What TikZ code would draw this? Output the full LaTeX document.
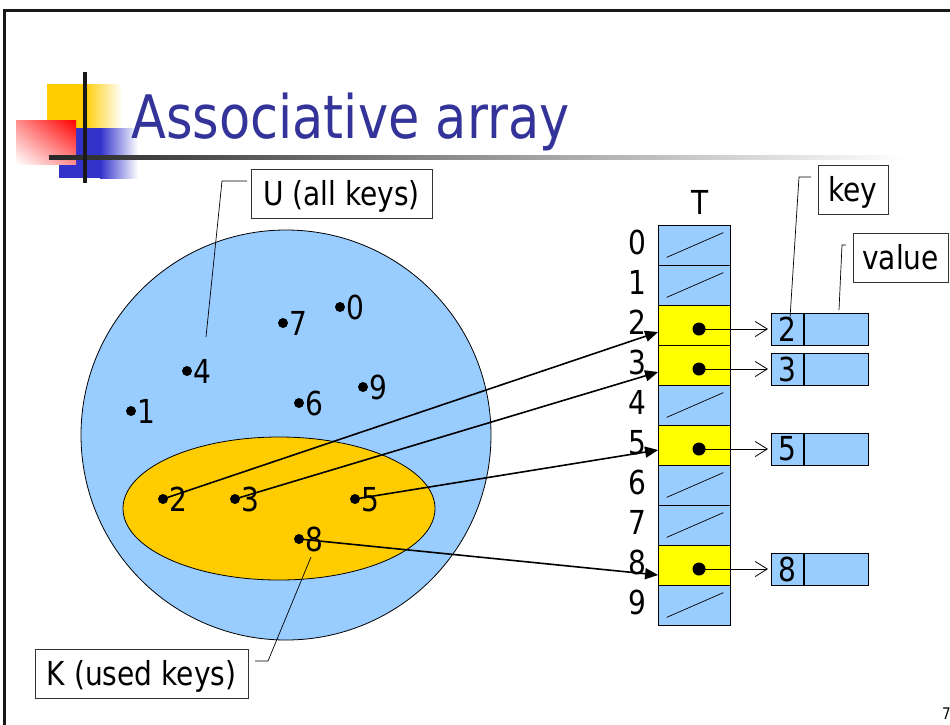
\documentclass[tikz,border=0pt]{standalone}
\usepackage{fontspec}
\setmainfont{DejaVu Sans}[FakeStretch=0.85]
\usetikzlibrary{arrows.meta,calc,shapes.geometric,shadings}
\definecolor{ublue}{HTML}{99CCFF}
\definecolor{kyellow}{HTML}{FFCC00}
\definecolor{ryellow}{HTML}{FFFF00}
\definecolor{titleblue}{HTML}{333399}
\definecolor{logoblue}{HTML}{3333CC}
\newcommand{\bigf}{\fontsize{33}{36}\selectfont}
\tikzset{
  dot/.style={circle,fill=black,inner sep=0pt,minimum size=10pt},
  rdot/.style={circle,fill=black,inner sep=0pt,minimum size=13pt},
  dlab/.style={anchor=base west,inner sep=0pt,font=\bigf},
  nlab/.style={anchor=base,inner sep=0pt,font=\bigf},
  tcell/.style={draw,line width=0.8pt,minimum width=72pt,minimum height=40pt,inner sep=0pt},
  emptycell/.style={tcell,fill=ublue},
  usedcell/.style={tcell,fill=ryellow},
  keycell/.style={draw,line width=0.8pt,fill=ublue,minimum width=32pt,minimum height=32pt,inner sep=0pt,font=\bigf,anchor=west},
  valcell/.style={draw,line width=0.8pt,fill=ublue,minimum width=64pt,minimum height=32pt,inner sep=0pt,anchor=west},
  callbox/.style={draw=black!80,line width=0.8pt,fill=white,inner sep=0pt,text height=24pt,text depth=0pt,minimum height=49pt,font=\bigf},
  callline/.style={line width=0.7pt},
  hasharrow/.style={line width=1.6pt,-{Triangle[length=13pt,width=11pt]}},
  ptrarrow/.style={line width=0.7pt,-{Straight Barb[length=12pt,width=15pt,line width=0.8pt]},shorten >=3pt},
  slash/.style={line width=0.7pt}
}
\begin{document}
\begin{tikzpicture}[x=1pt,y=-1pt]
\useasboundingbox (0,0) rectangle (950,724);
% frame
\draw[line width=3pt,black!90] (4.5,730) -- (4.5,10.5) -- (960,10.5);
% logo
\fill[kyellow] (47,84) rectangle (84,128);
\shade[left color=kyellow,right color=white] (84,84) rectangle (122,128);
\fill[logoblue] (59,128) rectangle (100,178);
\shade[left color=logoblue,right color=white] (100,128) rectangle (138,178);
\shade[upper right=red,upper left=red!45!white,lower right=red!45!white,lower left=white] (16,120) rectangle (76,164);
\shade[left color=black!85,middle color=black!45,right color=white] (49,155) rectangle (905,159);
\fill[black!90] (83,72) rectangle (87,183);
% title
\node[anchor=base west,inner sep=0pt,text=titleblue,font=\fontsize{60}{66}\selectfont] (title) at (131,138) {Associative array};
% sets
\node[circle,draw,line width=0.8pt,fill=ublue,minimum size=410pt,inner sep=0pt] (U) at (286,435) {};
\node[ellipse,draw,line width=0.8pt,fill=kyellow,minimum width=312pt,minimum height=143pt,inner sep=0pt] (K) at (279,508.5) {};
% keys in U
\node[dot] (d0) at (340,307) {}; \node[dlab] (l0) at (346,319) {0};
\node[dot] (d7) at (283,323) {}; \node[dlab] (l7) at (289,335) {7};
\node[dot] (d4) at (187,371) {}; \node[dlab] (l4) at (193,383) {4};
\node[dot] (d9) at (363,387) {}; \node[dlab] (l9) at (369,399) {9};
\node[dot] (d6) at (299,403) {}; \node[dlab] (l6) at (305,415) {6};
\node[dot] (d1) at (131,411) {}; \node[dlab] (l1) at (137,423) {1};
\node[dot] (d2) at (163,499) {}; \node[dlab] (l2) at (169,511) {2};
\node[dot] (d3) at (235,499) {}; \node[dlab] (l3) at (241,511) {3};
\node[dot] (d5) at (355,499) {}; \node[dlab] (l5) at (361,511) {5};
\node[dot] (d8) at (299,539) {}; \node[dlab] (l8) at (305,551) {8};
% table T
\node[nlab] (T) at (700,214) {T};
\foreach \i/\s in {0/emptycell,1/emptycell,2/usedcell,3/usedcell,4/emptycell,5/usedcell,6/emptycell,7/emptycell,8/usedcell,9/emptycell}{
  \node[\s] (r\i) at (694.5,245+40*\i) {};
  \node[nlab] (n\i) at (637,254+40*\i) {\i};
}
\foreach \i in {0,1,4,6,7,9}{
  \draw[slash] ($(r\i.south west)+(8.5,-8)$) -- ($(r\i.north east)+(-7.5,8)$);
}
% pointers and records
\foreach \i in {2,3,5,8}{
  \node[rdot] (p\i) at (699,249+40*\i) {};
  \node[keycell] (k\i) at (771,249+40*\i) {\i};
  \node[valcell] (v\i) at (k\i.east) {};
  \draw[ptrarrow] (p\i.center) -- (k\i.west);
}
% hash arrows
\draw[hasharrow] (d2.center) -- ($(r2.west)+(0,7)$);
\draw[hasharrow] (d3.center) -- ($(r3.west)+(0,7)$);
\draw[hasharrow] (d5.center) -- ($(r5.west)+(0,5)$);
\draw[hasharrow] (d8.center) -- ($(r8.west)+(0,10)$);
% callouts
\node[callbox,minimum width=181pt] (ubox) at (341.5,193.5) {U (all keys)};
\coordinate (uc1) at (247,181); \coordinate (uc2) at (222,181); \coordinate (uc3) at (206,337);
\draw[callline] (uc1) -- (uc2) -- (uc3);
\node[callbox,minimum width=213pt] (kbox) at (141.5,673.5) {K (used keys)};
\coordinate (kc1) at (255,661); \coordinate (kc2) at (268,661); \coordinate (kc3) at (311,557);
\draw[callline] (kc1) -- (kc2) -- (kc3);
\node[callbox,minimum width=70pt] (keybox) at (853,189.5) {key};
\coordinate (yc1) at (811,177); \coordinate (yc2) at (799,177); \coordinate (yc3) at (790,318);
\draw[callline] (yc1) -- (yc2) -- (yc3);
\node[callbox,minimum width=95pt] (valbox) at (900.5,257.5) {value};
\coordinate (vc1) at (846,245); \coordinate (vc2) at (842,245); \coordinate (vc3) at (839,310);
\draw[callline] (vc1) -- (vc2) -- (vc3);
% page number
\node[anchor=base west,inner sep=0pt,font=\fontsize{16}{18}\selectfont] (page) at (942,719) {7};
\end{tikzpicture}
\end{document}
